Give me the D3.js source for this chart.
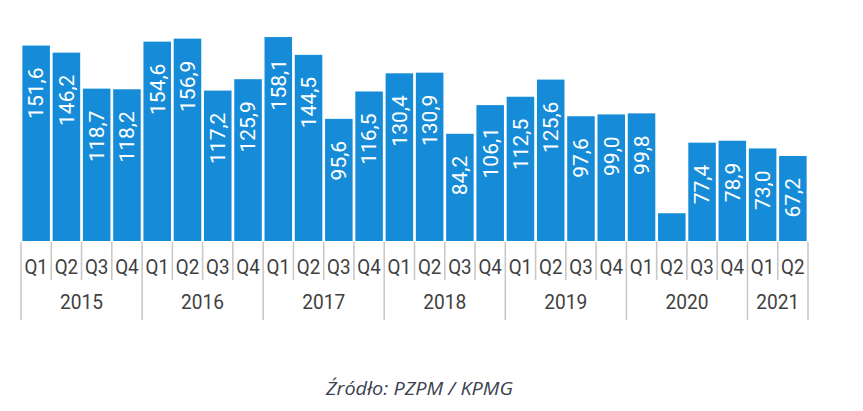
<!DOCTYPE html>
<html>
<head>
<meta charset="utf-8">
<script src="https://cdn.jsdelivr.net/npm/d3@7"></script>
<style>
  html, body { margin: 0; padding: 0; background: #ffffff; }
  svg { display: block; }
</style>
</head>
<body>
<script>
// ---- data ----
const years = ["2015", "2016", "2017", "2018", "2019", "2020", "2021"];
const quarters = ["Q1","Q2","Q3","Q4","Q1","Q2","Q3","Q4","Q1","Q2","Q3","Q4","Q1","Q2","Q3","Q4","Q1","Q2","Q3","Q4","Q1","Q2","Q3","Q4","Q1","Q2"];
const quarterYear = [0,0,0,0,1,1,1,1,2,2,2,2,3,3,3,3,4,4,4,4,5,5,5,5,6,6];
const values = [151.6,146.2,118.7,118.2,154.6,156.9,117.2,125.9,158.1,144.5,95.6,116.5,130.4,130.9,84.2,106.1,112.5,125.6,97.6,99.0,99.8,23.5,77.4,78.9,73.0,67.2];
const valueLabels = ["151,6","146,2","118,7","118,2","154,6","156,9","117,2","125,9","158,1","144,5","95,6","116,5","130,4","130,9","84,2","106,1","112,5","125,6","97,6","99,0","99,8","","77,4","78,9","73,0","67,2"];
const sourceText = "Źródło: PZPM / KPMG";

// ---- layout ----
const W = 863, H = 411;
const left = 21, right = 808;
const axisY = 241;
const barColor = "#168cd8";
const sepColor = "#c9c9c9";

const svg = d3.select("body").append("svg")
  .attr("width", W).attr("height", H);

const x = d3.scaleBand()
  .domain(d3.range(values.length))
  .range([left, right])
  .paddingInner(0.09)
  .paddingOuter(0.045);

const y = d3.scaleLinear()
  .domain([0, 160])
  .range([244, 244 - 160 * 1.309]);

const step = x.step();
const half = (step - x.bandwidth()) / 2;

// bars
svg.append("g").selectAll("rect")
  .data(values)
  .join("rect")
  .attr("x", (d, i) => x(i))
  .attr("width", x.bandwidth())
  .attr("y", d => y(d))
  .attr("height", d => axisY - y(d))
  .attr("fill", barColor);

// value labels
svg.append("g").selectAll("text")
  .data(values)
  .join("text")
  .attr("transform", (d, i) => `translate(${x(i) + x.bandwidth() / 2},${y(d) + 22}) rotate(-90)`)
  .attr("text-anchor", "end")
  .attr("dy", "0.35em")
  .attr("fill", "#ffffff")
  .style("font-family", "Roboto, sans-serif")
  .style("font-size", "21px")
  .text((d, i) => valueLabels[i]);

// separators
const sepG = svg.append("g").attr("stroke", sepColor).attr("stroke-width", 1.6);
const boundaries = d3.range(values.length + 1);
sepG.selectAll("line")
  .data(boundaries)
  .join("line")
  .attr("x1", i => (i < values.length ? x(i) - half : x(values.length - 1) + x.bandwidth() + half))
  .attr("x2", i => (i < values.length ? x(i) - half : x(values.length - 1) + x.bandwidth() + half))
  .attr("y1", axisY + 1)
  .attr("y2", i => {
    const isYear = i === 0 || i === values.length || quarterYear[i] !== quarterYear[i - 1];
    return isYear ? 320 : 280;
  });

// quarter labels
svg.append("g").selectAll("text")
  .data(quarters)
  .join("text")
  .attr("x", (d, i) => x(i) + x.bandwidth() / 2)
  .attr("y", 273.5)
  .attr("text-anchor", "middle")
  .attr("fill", "#3f3f3f")
  .style("font-family", "Roboto, sans-serif")
  .style("font-size", "21px")
  .attr("textLength", 23.5)
  .attr("lengthAdjust", "spacingAndGlyphs")
  .text(d => d);

// year labels
svg.append("g").selectAll("text")
  .data(years)
  .join("text")
  .attr("x", (d, yi) => {
    const idx = d3.range(values.length).filter(i => quarterYear[i] === yi);
    const a = x(idx[0]) - half;
    const b = x(idx[idx.length - 1]) + x.bandwidth() + half;
    return (a + b) / 2;
  })
  .attr("y", 309)
  .attr("text-anchor", "middle")
  .attr("fill", "#3f3f3f")
  .style("font-family", "Roboto, sans-serif")
  .style("font-size", "21px")
  .attr("textLength", 43)
  .attr("lengthAdjust", "spacingAndGlyphs")
  .text(d => d);

// source
svg.append("text")
  .attr("x", 419.5)
  .attr("y", 395)
  .attr("text-anchor", "middle")
  .attr("fill", "#3a4150")
  .style("font-family", "'Open Sans', sans-serif")
  .style("font-style", "italic")
  .style("font-size", "18px")
  .attr("textLength", 187)
  .attr("lengthAdjust", "spacingAndGlyphs")
  .text(sourceText);
</script>
</body>
</html>
